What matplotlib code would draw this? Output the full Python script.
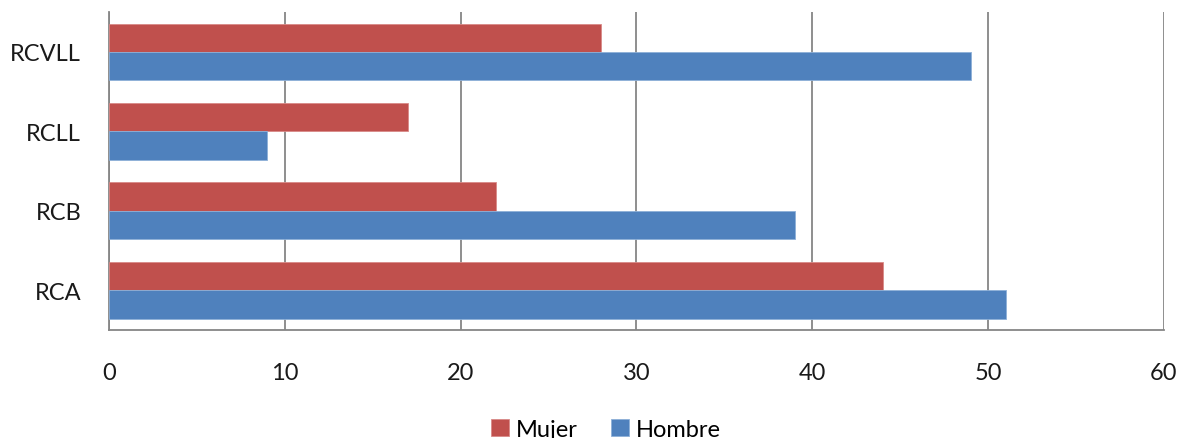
import matplotlib.pyplot as plt
import numpy as np

plt.rcParams['font.family'] = ['Lato', 'DejaVu Sans']

categories = ['RCA', 'RCB', 'RCLL', 'RCVLL']
mujer = [44, 22, 17, 28]
hombre = [51, 39, 9, 49]

red = '#C0504D'
blue = '#4F81BD'
grid_gray = '#868686'

fig = plt.figure(figsize=(11.81, 4.39), dpi=100)
ax = fig.add_axes([0.0923, 0.246, 0.8933, 0.724])

ind = np.arange(len(categories))
h = 0.357
ax.barh(ind + h / 2, mujer, h, color=red, edgecolor='#D98A88', linewidth=0.6, label='Mujer', zorder=3)
ax.barh(ind - h / 2, hombre, h, color=blue, edgecolor='#8DB0D8', linewidth=0.6, label='Hombre', zorder=3)

ax.set_xlim(0, 60)
ax.set_ylim(-0.5, 3.5)
ax.set_xticks(np.arange(0, 61, 10))
ax.set_yticks(ind)
ax.set_yticklabels(categories)
ax.tick_params(axis='both', length=0, labelsize=17, colors='#1a1a1a')
ax.tick_params(axis='x', pad=23)
ax.tick_params(axis='y', pad=20)

ax.xaxis.grid(True, color=grid_gray, linewidth=1.3, zorder=0)
for side in ('top', 'right'):
    ax.spines[side].set_visible(False)
for side in ('left', 'bottom'):
    ax.spines[side].set_color(grid_gray)
    ax.spines[side].set_linewidth(1.3)

ax.legend(loc='center', bbox_to_anchor=(0.513, 0.02), bbox_transform=fig.transFigure,
          ncol=2, frameon=False, fontsize=17, handlelength=0.75, handleheight=0.75,
          handletextpad=0.3, columnspacing=1.4)

fig.savefig('out.png', dpi=100)
